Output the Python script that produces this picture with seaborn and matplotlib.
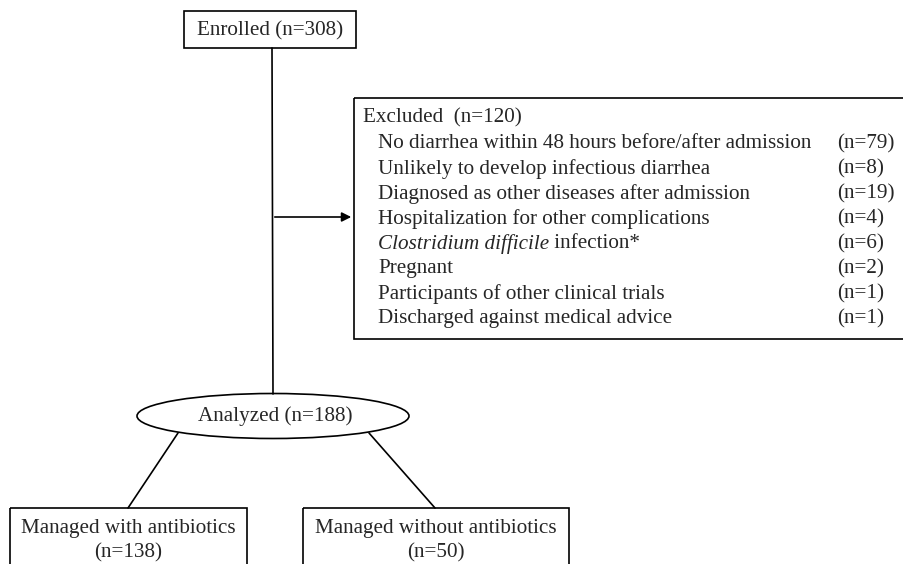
import seaborn as sns
import matplotlib.pyplot as plt
from matplotlib.patches import Rectangle, Ellipse

sns.set_style('white')
plt.rcParams['font.family'] = ['Liberation Serif', 'DejaVu Serif']

enrolled = 308
analyzed = 188
excluded_total = 120
reasons = ['No diarrhea within 48 hours before/after admission',
           'Unlikely to develop infectious diarrhea',
           'Diagnosed as other diseases after admission',
           'Hospitalization for other complications',
           'Clostridium difficile| infection*',
           'Pregnant',
           'Participants of other clinical trials',
           'Discharged against medical advice']
counts = [79, 8, 19, 4, 6, 2, 1, 1]
groups = ['Managed with antibiotics', 'Managed without antibiotics']
group_n = [138, 50]

fig = plt.figure(figsize=(9.04, 5.64), dpi=100)
ax = fig.add_axes([0, 0, 1, 1])
ax.set_xlim(0, 904)
ax.set_ylim(564, 0)
ax.axis('off')

fs = 15.2
lw = 1.2

# enrolled box
ax.add_patch(Rectangle((184, 11), 172, 37, fill=False, lw=lw, ec='black'))
ax.text(270, 31, f'Enrolled (n={enrolled})', ha='center', va='center', fontsize=fs)

# main vertical line
ax.plot([272, 273], [48, 394], color='black', lw=lw)

# arrow to excluded box
ax.annotate('', xy=(354, 217), xytext=(272, 217),
            arrowprops=dict(arrowstyle='-|>', color='black', lw=lw, mutation_scale=14))

# excluded box
ax.add_patch(Rectangle((354, 98), 600, 241, fill=False, lw=lw, ec='black'))
ax.text(363, 118, f'Excluded  (n={excluded_total})', ha='left', va='center', fontsize=fs)

fig.canvas.draw()
renderer = fig.canvas.get_renderer()
y0, dy = 144, 25
for i, (r, c) in enumerate(zip(reasons, counts)):
    y = y0 + i * dy
    if '|' in r:
        it, rest = r.split('|')
        t = ax.text(378, y, it, ha='left', va='center', fontsize=fs, style='italic')
        bb = t.get_window_extent(renderer=renderer)
        x_end = ax.transData.inverted().transform((bb.x1, bb.y0))[0]
        ax.text(x_end, y, rest, ha='left', va='center', fontsize=fs)
    else:
        ax.text(378, y, r, ha='left', va='center', fontsize=fs)
    ax.text(837, y, f'(n={c})', ha='left', va='center', fontsize=fs)

# analyzed ellipse
ax.add_patch(Ellipse((273, 416), 272, 45, fill=False, lw=lw, ec='black'))
ax.text(275, 416, f'Analyzed (n={analyzed})', ha='center', va='center', fontsize=fs)

# branch lines
ax.plot([178, 128], [433, 508], color='black', lw=lw)
ax.plot([369, 435], [433, 508], color='black', lw=lw)

# bottom boxes
boxes = [(10, 237), (303, 266)]
for (bx, bw), g, n in zip(boxes, groups, group_n):
    ax.add_patch(Rectangle((bx, 508), bw, 80, fill=False, lw=lw, ec='black'))
    ax.text(bx + bw / 2, 528, g, ha='center', va='center', fontsize=fs)
    ax.text(bx + bw / 2, 553, f'(n={n})', ha='center', va='center', fontsize=fs)

fig.savefig('out.png', dpi=100)
